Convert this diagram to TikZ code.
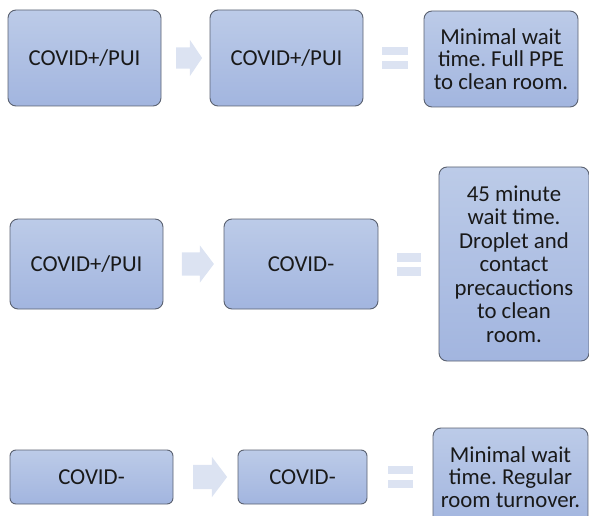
\documentclass[tikz,border=0pt]{standalone}
\usepackage{fontspec}
\setmainfont{Carlito}
\usepackage{xcolor}
\usetikzlibrary{positioning}
\usetikzlibrary{calc}
\usetikzlibrary{shapes.arrows}

\definecolor{boxtop}{HTML}{BCCBE8}
\definecolor{boxbot}{HTML}{A2B5DF}
\definecolor{boxline}{HTML}{5A6170}
\definecolor{flowgray}{HTML}{DCE3F2}

\begin{document}
\frenchspacing
\begin{tikzpicture}[x=1pt,y=-1pt,
	box/.style={draw=boxline, line width=0.9pt, rounded corners=8pt, top color=boxtop, bottom color=boxbot,
		align=center, inner sep=1pt, text=black!90, font=\fontsize{22.8}{22.5}\selectfont},
	flow/.style={single arrow, fill=flowgray, draw=none, inner xsep=0pt, single arrow tip angle=106},
	eqbar/.style={fill=flowgray, draw=none, inner sep=0pt, minimum height=8pt}]
	\useasboundingbox (0,0) rectangle (589,516);
	\clip (0,0) rectangle (589,516);

	% first row
	\node[box, minimum width=153pt, minimum height=96pt] (r1a) at (84.5,58) {COVID+/PUI};
	\node[box, minimum width=153pt, minimum height=96pt] (r1b) at (286.5,58) {COVID+/PUI};
	\node[box, minimum width=154pt, minimum height=96pt] (r1c) at (501,59) {Minimal wait\\time. Full PPE\\to clean room.};
	\node[flow, minimum height=26pt, inner ysep=10.5pt, single arrow head extend=7.5pt, single arrow tip angle=112] (r1arr) at ($(r1a.east)!0.5!(r1b.west)$) {};
	\node[eqbar, minimum width=26pt] (r1eqa) at ($(r1b.east)!0.5!(r1c.west)+(1.5,-7)$) {};
	\node[eqbar, minimum width=26pt] (r1eqb) at ($(r1b.east)!0.5!(r1c.west)+(1.5,7)$) {};

	% second row
	\node[box, minimum width=153pt, minimum height=90pt] (r2a) at (86.5,264) {COVID+/PUI};
	\node[box, minimum width=154pt, minimum height=90pt] (r2b) at (301,264) {COVID-};
	\node[box, minimum width=150pt, minimum height=194pt, font=\fontsize{22.8}{23.5}\selectfont] (r2c) at (514,264)
		{45 minute\\wait time.\\Droplet and\\contact\\precauctions\\to clean\\room.};
	\node[flow, minimum height=32pt, inner ysep=11.5pt, single arrow head extend=7pt] (r2arr) at ($(r2a.east)!0.5!(r2b.west)$) {};
	\node[eqbar, minimum width=24pt, minimum height=9pt] (r2eqa) at ($(r2b.east)!0.5!(r2c.west)+(0.5,-7)$) {};
	\node[eqbar, minimum width=24pt, minimum height=9pt] (r2eqb) at ($(r2b.east)!0.5!(r2c.west)+(0.5,7)$) {};

	% third row
	\node[box, minimum width=163pt, minimum height=54pt, rounded corners=6pt] (r3a) at (91.5,477) {COVID-};
	\node[box, minimum width=129pt, minimum height=54pt, rounded corners=6pt] (r3b) at (302.5,477) {COVID-};
	\node[box, minimum width=155pt, minimum height=98pt] (r3c) at (510.5,477) {Minimal wait\\time. Regular\\room turnover.};
	\node[flow, minimum height=34pt, inner ysep=12pt, single arrow head extend=8pt] (r3arr) at ($(r3a.east)!0.5!(r3b.west)$) {};
	\node[eqbar, minimum width=25pt] (r3eqa) at ($(r3b.east)!0.5!(r3c.west)+(0.5,-7)$) {};
	\node[eqbar, minimum width=25pt] (r3eqb) at ($(r3b.east)!0.5!(r3c.west)+(0.5,7)$) {};
\end{tikzpicture}
\end{document}
